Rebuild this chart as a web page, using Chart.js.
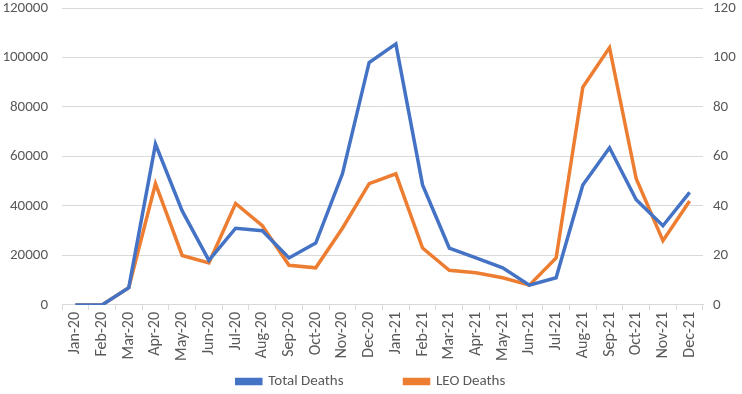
<!DOCTYPE html>
<html>
<head>
<meta charset="utf-8">
<script src="https://cdn.jsdelivr.net/npm/chart.js@4.4.0/dist/chart.umd.min.js"></script>
<style>
html,body{margin:0;padding:0;background:#fff;}
#wrap{width:742px;height:394px;position:relative;}
</style>
</head>
<body>
<div id="wrap"><canvas id="c" width="742" height="394"></canvas></div>
<script>
const categories = ["Jan-20","Feb-20","Mar-20","Apr-20","May-20","Jun-20","Jul-20","Aug-20","Sep-20","Oct-20","Nov-20","Dec-20","Jan-21","Feb-21","Mar-21","Apr-21","May-21","Jun-21","Jul-21","Aug-21","Sep-21","Oct-21","Nov-21","Dec-21"];
const totalDeaths = [0,0,7000,65000,38000,18000,31000,30000,19000,25000,53000,98000,105500,48500,23000,19000,15000,8000,11000,48500,63500,42500,32000,45500];
const leoDeaths = [0,0,7,49,20,17,41,32,16,15,31,49,53,23,14,13,11,8,19,88,104,51,26,42];
const leftTicks = [0,20000,40000,60000,80000,100000,120000];
const rightTicks = [0,20,40,60,80,100,120];

const FONT = 'Carlito, "Liberation Sans", Arial, sans-serif';
const GREY = '#595959';

const legendShift = {
  id: 'legendShift',
  afterLayout(chart) {
    const lg = chart.legend;
    if (lg) { lg.top = 313; lg.bottom = 394; lg.height = 81; }
  }
};

new Chart(document.getElementById('c'), {
  type: 'line',
  data: {
    labels: categories,
    datasets: [
      {label:'Total Deaths', data: totalDeaths, yAxisID:'y', borderColor:'#4472C4', backgroundColor:'#4472C4', borderWidth:3.5, pointRadius:0, tension:0},
      {label:'LEO Deaths', data: leoDeaths, yAxisID:'y1', borderColor:'#ED7D31', backgroundColor:'#ED7D31', borderWidth:3.5, pointRadius:0, tension:0}
    ]
  },
  plugins: [legendShift],
  options: {
    responsive:false,
    animation:false,
    layout:{padding:{top:0,bottom:0,left:0,right:0}},
    plugins:{
      legend:{position:'bottom', maxHeight:31, labels:{font:{family:FONT,size:15}, color:GREY, boxWidth:24, boxHeight:4, padding:61}},
      tooltip:{enabled:false}
    },
    scales:{
      x:{
        offset:true,
        grid:{offset:true, drawOnChartArea:false, drawTicks:true, tickLength:5, color:'#d9d9d9'},
        border:{display:true, color:'#d9d9d9'},
        ticks:{font:{family:FONT,size:16}, color:GREY, maxRotation:90, minRotation:90, autoSkip:false, padding:2}
      },
      y:{
        position:'left', min:0, max:120000,
        afterBuildTicks: s => { s.ticks = leftTicks.map(v=>({value:v})); },
        afterFit: s => { s.width = 62; s.paddingTop = 8; s.paddingBottom = 0; },
        grid:{color:'#d9d9d9', drawTicks:false},
        border:{display:false},
        ticks:{font:{family:FONT,size:15}, color:GREY, padding:14, callback: v => String(v)}
      },
      y1:{
        position:'right', min:0, max:120,
        afterBuildTicks: s => { s.ticks = rightTicks.map(v=>({value:v})); },
        afterFit: s => { s.width = 39; s.paddingTop = 8; s.paddingBottom = 0; },
        grid:{drawOnChartArea:false, drawTicks:false},
        border:{display:false},
        ticks:{font:{family:FONT,size:15}, color:GREY, padding:10, callback: v => String(v)}
      }
    }
  }
});
</script>
</body>
</html>
